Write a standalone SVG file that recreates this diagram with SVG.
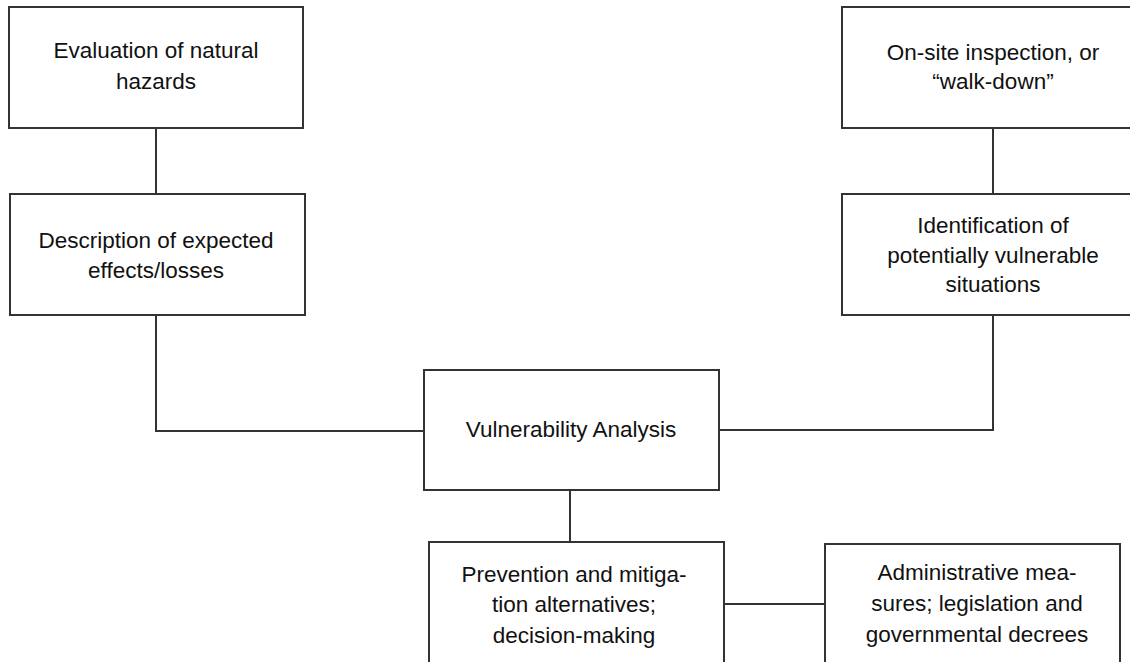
<svg xmlns="http://www.w3.org/2000/svg" width="1130" height="662" viewBox="0 0 1130 662">
<style>
.box{fill:#fff;stroke:#333;stroke-width:2}
.ln{fill:none;stroke:#333;stroke-width:2}
text{font-family:"Liberation Sans",Arial,sans-serif;font-size:22.5px;fill:#111;text-anchor:middle}
</style>
<rect width="1130" height="662" fill="#fff"/>
<g id="connectors">
<path class="ln" d="M156 128V194"/>
<path class="ln" d="M156 315V431H424"/>
<path class="ln" d="M993 128V194"/>
<path class="ln" d="M993 315V430H719"/>
<path class="ln" d="M570 490V542"/>
<path class="ln" d="M724 604H825"/>
</g>
<g id="n1"><rect class="box" x="9" y="7" width="294" height="121"/>
<text x="156" y="58">Evaluation of natural</text><text x="156" y="89">hazards</text></g>
<g id="n2"><rect class="box" x="10" y="194" width="295" height="121"/>
<text x="156" y="248">Description of expected</text><text x="156" y="278">effects/losses</text></g>
<g id="n3"><rect class="box" x="842" y="7" width="300" height="121"/>
<text x="993" y="60">On-site inspection, or</text><text x="993" y="89">“walk-down”</text></g>
<g id="n4"><rect class="box" x="842" y="194" width="300" height="121"/>
<text x="993" y="233">Identification of</text><text x="993" y="263">potentially vulnerable</text><text x="993" y="292">situations</text></g>
<g id="n5"><rect class="box" x="424" y="370" width="295" height="120"/>
<text x="571" y="437">Vulnerability Analysis</text></g>
<g id="n6"><rect class="box" x="429" y="542" width="295" height="140"/>
<text x="574" y="582">Prevention and mitiga-</text><text x="574" y="612">tion alternatives;</text><text x="574" y="643">decision-making</text></g>
<g id="n7"><rect class="box" x="825" y="544" width="295" height="140"/>
<text x="977" y="580">Administrative mea-</text><text x="977" y="611">sures; legislation and</text><text x="977" y="642">governmental decrees</text></g>
</svg>
